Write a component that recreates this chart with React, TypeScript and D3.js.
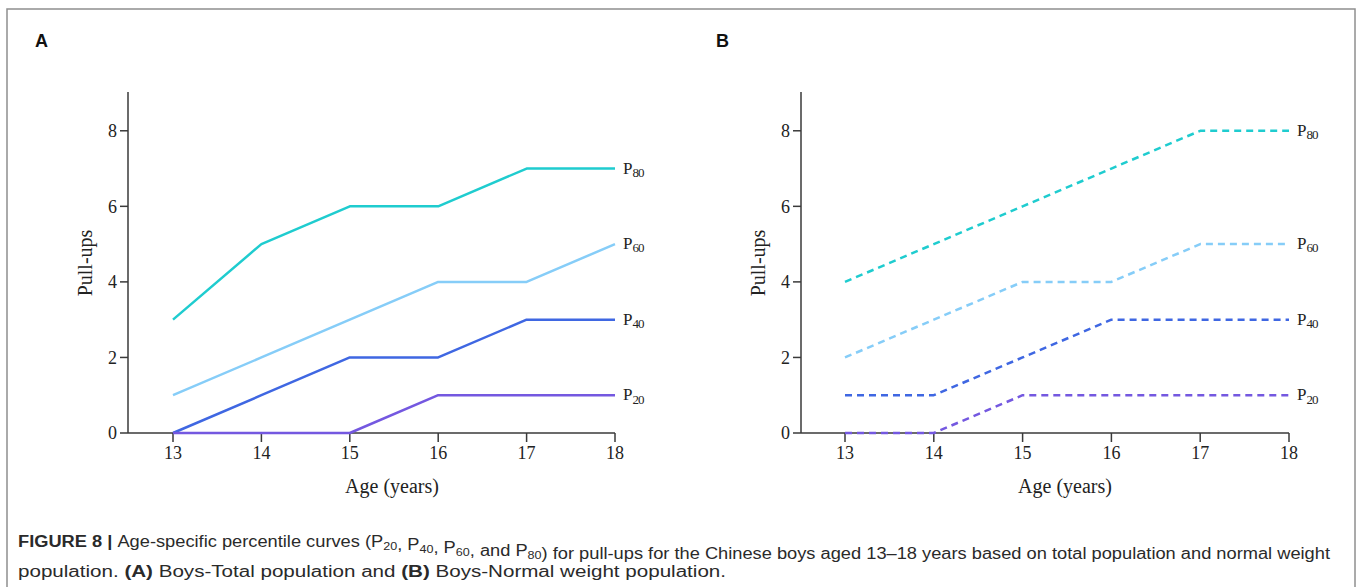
import React from "react";
import * as d3 from "d3";

const ages = [13, 14, 15, 16, 17, 18];
const yTicks = [0, 2, 4, 6, 8];
const percentiles = ["80", "60", "40", "20"];
const colors = ["#1fcccf", "#86cdf8", "#3f67e2", "#7458e0"];

// Panel A: Boys - Total population
const aP80 = [3, 5, 6, 6, 7, 7];
const aP60 = [1, 2, 3, 4, 4, 5];
const aP40 = [0, 1, 2, 2, 3, 3];
const aP20 = [0, 0, 0, 1, 1, 1];

// Panel B: Boys - Normal weight population
const bP80 = [4, 5, 6, 7, 8, 8];
const bP60 = [2, 3, 4, 4, 5, 5];
const bP40 = [1, 1, 2, 3, 3, 3];
const bP20 = [0, 0, 1, 1, 1, 1];

const panels = [
  { label: "A", labelX: 35, axisX: 128, x0: 173, x1: 615, series: [aP80, aP60, aP40, aP20], dash: null as string | null },
  { label: "B", labelX: 716, axisX: 801, x0: 845, x1: 1289, series: [bP80, bP60, bP40, bP20], dash: "7,5" },
];

const SERIF = "'Liberation Serif', 'Times New Roman', serif";
const SANS = "'Liberation Sans', Arial, Helvetica, sans-serif";

function Panel({ p }: { p: typeof panels[number] }) {
  const x = d3.scaleLinear().domain([13, 18]).range([p.x0, p.x1]);
  const y = d3.scaleLinear().domain([0, 9]).range([433, 93]);
  const line = d3
    .line<number>()
    .x((_, i) => x(ages[i]))
    .y((d) => y(d));
  const axisColor = "#3a3a3a";
  const midX = (p.x0 + p.x1) / 2 - 2;
  return (
    <g>
      <text x={p.labelX} y={47} fontFamily={SANS} fontWeight="bold" fontSize={18} fill="#111">
        {p.label}
      </text>
      {/* y axis */}
      <line x1={p.axisX} x2={p.axisX} y1={y(9) - 1} y2={y(0)} stroke={axisColor} strokeWidth={1.5} />
      {yTicks.map((t) => (
        <g key={t}>
          <line x1={p.axisX - 8} x2={p.axisX} y1={y(t)} y2={y(t)} stroke={axisColor} strokeWidth={1.5} />
          <text x={p.axisX - 11} y={y(t)} dy="0.35em" textAnchor="end" fontFamily={SERIF} fontSize={18} fill="#222">
            {t}
          </text>
        </g>
      ))}
      {/* x axis */}
      <line x1={p.axisX} x2={x(18)} y1={y(0)} y2={y(0)} stroke={axisColor} strokeWidth={1.5} />
      {ages.map((a) => (
        <g key={a}>
          <line x1={x(a)} x2={x(a)} y1={y(0)} y2={y(0) + 9} stroke={axisColor} strokeWidth={1.5} />
          <text x={x(a)} y={y(0) + 20} dy="0.35em" textAnchor="middle" fontFamily={SERIF} fontSize={18} fill="#222">
            {a}
          </text>
        </g>
      ))}
      <text x={midX} y={y(0) + 60} textAnchor="middle" fontFamily={SERIF} fontSize={20} fill="#222">
        Age (years)
      </text>
      <text
        transform={`translate(${p.axisX - 36},${(y(0) + y(9)) / 2}) rotate(-90)`}
        textAnchor="middle"
        fontFamily={SERIF}
        fontSize={20}
        fill="#222"
      >
        Pull-ups
      </text>
      {p.series.map((s, i) => (
        <g key={i}>
          <path
            d={line(s) || ""}
            fill="none"
            stroke={colors[i]}
            strokeWidth={2.5}
            strokeLinejoin="round"
            strokeDasharray={p.dash || undefined}
          />
          <text x={x(18) + 8} y={y(s[s.length - 1])} dy="0.3em" fontFamily={SERIF} fontSize={17} fill="#222">
            P
            <tspan fontSize={13} dy="0.25em" letterSpacing={-1}>
              {percentiles[i]}
            </tspan>
          </text>
        </g>
      ))}
    </g>
  );
}

function Sub({ t }: { t: string }) {
  return (
    <>
      <tspan fontSize={11} dy={3}>{t}</tspan>
      <tspan dy={-3}></tspan>
    </>
  );
}

export default function App() {
  return (
    <div style={{ position: "absolute", left: 0, top: 0 }}>
      <svg width={1358} height={587} style={{ display: "block", background: "#fff" }}>
        <rect x={7} y={9} width={1348} height={600} fill="none" stroke="#8f8f8f" strokeWidth={1.5} />
        {panels.map((p) => (
          <Panel key={p.label} p={p} />
        ))}
        <text x={18} y={547} fontFamily={SANS} fontSize={16} fill="#2a2a2a" textLength={1312} lengthAdjust="spacingAndGlyphs">
          <tspan fontWeight="bold">FIGURE 8 | </tspan>
          Age-specific percentile curves (P<Sub t="20" />, P<Sub t="40" />, P<Sub t="60" />, and P<Sub t="80" />) for pull-ups for the Chinese boys aged 13–18 years based on total population and normal weight
        </text>
        <text x={18} y={577} fontFamily={SANS} fontSize={16} fill="#2a2a2a" textLength={708} lengthAdjust="spacingAndGlyphs">
          population. <tspan fontWeight="bold">(A)</tspan> Boys-Total population and <tspan fontWeight="bold">(B)</tspan> Boys-Normal weight population.
        </text>
      </svg>
    </div>
  );
}
